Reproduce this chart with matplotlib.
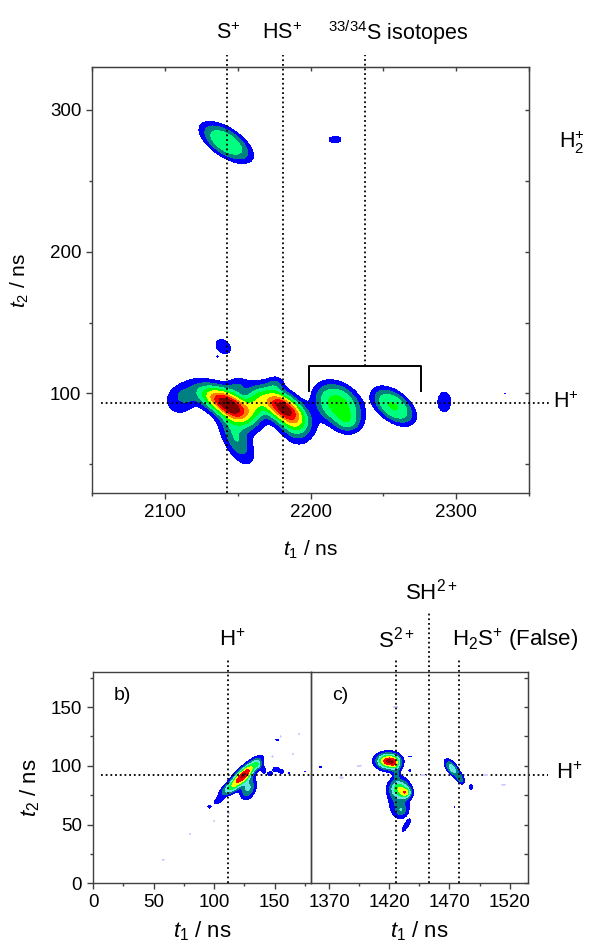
import numpy as np
import matplotlib
matplotlib.use("Agg")
import matplotlib.pyplot as plt
from matplotlib.ticker import MultipleLocator, FixedLocator

plt.rcParams['font.family'] = ['Liberation Sans', 'DejaVu Sans']
plt.rcParams['mathtext.fontset'] = 'custom'
plt.rcParams['mathtext.rm'] = 'Liberation Sans'
plt.rcParams['mathtext.it'] = 'Liberation Sans:italic'
plt.rcParams['mathtext.bf'] = 'Liberation Sans:bold'

# ---- panel a: t1 2050-2350 ns, t2 30-330 ns
# island centre, height, widths, tilt, flatness
a_t1  = [2140, 2149, 2149, 2110, 2162, 2181, 2189, 2219, 2226, 2257, 2292,
         2325, 2329, 2334, 2140, 2149, 2136, 2165, 2150, 2176,
         2142, 2217, 2224.5]
a_t2  = [95, 86, 68, 95, 93, 90, 75, 92, 78, 91, 94,
         100, 95.5, 100, 133, 136, 126, 115, 106, 107,
         277, 279, 270.5]
a_amp = [6.5, 4.0, 3.0, 1.8, 2.5, 8.4, 2.2, 4.3, 1.5, 4.05, 1.6,
         1.3, 1.3, 1.2, 1.5, 1.2, 1.2, 1.2, 1.5, 1.5,
         3.85, 1.4, 1.2]
a_w1  = [14, 9, 8, 7, 5, 11, 7, 11.5, 6, 10, 4,
         0.8, 1.0, 0.6, 4.8, 0.8, 0.8, 0.8, 5, 4,
         12, 4.5, 0.5]
a_w2  = [8, 8, 12, 7, 7, 9, 8, 11, 5, 9, 6.4,
         0.8, 1.0, 0.6, 4.8, 0.8, 0.8, 0.8, 4, 4,
         9.5, 2.5, 1.2]
a_rho = [-0.6, -0.6, -0.6, 0, 0, -0.6, -0.3, -0.3, 0, -0.5, 0,
         0, 0, 0, -0.3, 0, 0, 0, 0, 0,
         -0.62, 0, 0]
a_pow = [1, 1, 1, 1.5, 1, 1, 1, 1.5, 1, 1.5, 1.5,
         1, 1, 1, 1.5, 1, 1, 1, 1, 1,
         1.5, 1.5, 1]

# ---- panel b: t1 0-180 ns
b_t1  = [124, 128, 112, 103, 96, 136, 141, 146, 151, 156, 162, 175, 152]
b_t2  = [92, 81, 80, 70, 65, 101, 96, 93, 97, 95, 94, 95, 122]
b_amp = [6.9, 3.2, 1.8, 1.5, 1.3, 1.8, 1.4, 1.4, 1.5, 1.4, 1.2, 1.1, 1.3]
b_w1  = [8.5, 4.5, 6, 3, 1.5, 2.5, 1.5, 2, 2.5, 2, 1, 0.6, 1.5]
b_w2  = [8.5, 6.5, 4, 2.5, 1.2, 2.5, 2.5, 2, 2, 1.5, 1, 0.8, 0.4]
b_rho = [0.85, 0.3, 0.7, 0.6, 0, 0, 0, 0, 0, 0, 0, 0, 0]
# faint specks (lowest level only)
bf_t1 = [155, 170, 58, 100, 80, 148, 165, 112]
bf_t2 = [125, 127, 20, 53, 42, 108, 110, 60]

# ---- panel c: t1 1355-1535 ns
c_t1  = [1419, 1425, 1426, 1428, 1434, 1428, 1430, 1434, 1472, 1479, 1488,
         1437, 1437, 1363, 1474]
c_t2  = [104, 101, 92, 81, 77, 72, 62, 49, 98, 89, 82,
         96, 108, 99, 65]
c_amp = [7.0, 2.0, 1.8, 3.2, 3.2, 2.2, 1.5, 1.6, 3.6, 2.3, 1.4,
         1.3, 1.3, 1.3, 1.2]
c_w1  = [6.5, 3, 1.5, 5.5, 3, 6.5, 3.5, 3, 4, 2.5, 1.5,
         1, 1.5, 1.5, 0.3]
c_w2  = [4.5, 4, 3, 5, 3, 12, 3.5, 4.5, 5, 3.5, 2.5,
         1, 0.4, 0.4, 1.5]
c_rho = [0, 0, 0, 0, 0, 0, 0, 0.85, -0.6, -0.5, 0,
         0, 0, 0, 0]
cf_t1 = [1412, 1425, 1380, 1500, 1515, 1448, 1395]
cf_t2 = [107, 150, 90, 92, 84, 92, 100]

levels_a = [1, 2, 3, 4, 5, 6, 7, 8, 100]
colors_a = ['#0000FF', '#008080', '#00FF80', '#00FF00', '#FFFF00', '#FF8000', '#FF0000', '#800000']
levels_bc = [1, 2, 3, 4, 5, 6, 7, 100]
colors_bc = ['#0000FF', '#008080', '#60E8E0', '#00FF40', '#FFFF00', '#FF0000', '#900000']
faint_col = '#D0D0FF'


def surface(X, Y, c1, c2, amp, w1, w2, rho, pw=None):
    Z = np.zeros_like(X)
    if pw is None:
        pw = [1] * len(c1)
    for x0, y0, A, s1, s2, r, p in zip(c1, c2, amp, w1, w2, rho, pw):
        dx = (X - x0) / s1
        dy = (Y - y0) / s2
        q = (dx**2 - 2 * r * dx * dy + dy**2) / (1 - r**2)
        Z += A * np.exp(-(0.5 * q) ** p)
    return Z


fig = plt.figure(figsize=(5.89, 9.48), dpi=100)
spine_col = '#404040'
dots = (0, (1, 1.6))


def style(ax):
    for s in ax.spines.values():
        s.set_color(spine_col)
        s.set_linewidth(1.0)
    ax.tick_params(which='both', direction='out', colors=spine_col, labelcolor='black',
                   labelsize=13.5, width=1.0)
    ax.tick_params(which='major', length=4.5)
    ax.tick_params(which='minor', length=2.5)


# ================= panel a =================
ax = fig.add_axes([0.157, 0.4803, 0.7404, 0.4487])
X, Y = np.meshgrid(np.arange(2050, 2351, 2.0), np.arange(30, 331, 2.0))
Z = surface(X, Y, a_t1, a_t2, a_amp, a_w1, a_w2, a_rho, a_pow)
ax.contourf(X, Y, Z, levels=levels_a, colors=colors_a)
ax.set_xlim(2050, 2350)
ax.set_ylim(30, 330)
ax.xaxis.set_major_locator(MultipleLocator(100))
ax.xaxis.set_minor_locator(MultipleLocator(50))
ax.yaxis.set_major_locator(MultipleLocator(100))
ax.yaxis.set_minor_locator(MultipleLocator(50))
style(ax)
for side in ['top', 'right']:
    sec = ax.secondary_xaxis('top') if side == 'top' else ax.secondary_yaxis('right')
    axis = sec.xaxis if side == 'top' else sec.yaxis
    axis.set_major_locator(MultipleLocator(100))
    axis.set_minor_locator(MultipleLocator(50))
    sec.tick_params(which='both', direction='in', length=3, colors=spine_col,
                    labeltop=False, labelright=False, width=1.0)
    sec.spines[side].set_color(spine_col)

xt = ax.get_xaxis_transform()
yt = ax.get_yaxis_transform()
line_pos = [2142.5, 2181, 2237.4]
line_bot = [30, 30, 119.6]
for xp, yb in zip(line_pos, line_bot):
    ybf = (yb - 30) / 300
    ax.plot([xp, xp], [ybf, 1.029], transform=xt, color='black', ls=dots, lw=1.3,
            clip_on=False, zorder=5)
ax.plot([0.02, 1.046], [93, 93], transform=yt, color='black', ls=dots, lw=1.3,
        clip_on=False, zorder=5)
ax.plot([2199, 2199, 2276, 2276], [102, 119.6, 119.6, 102], color='black', lw=1.4, zorder=6)

ax.text(2143.3, 1.081, r'S$^{+}$', transform=xt, ha='center', va='center', fontsize=15.5)
ax.text(2180.4, 1.081, r'HS$^{+}$', transform=xt, ha='center', va='center', fontsize=15.5)
ax.text(2260, 1.081, r'$^{33/34}$S isotopes', transform=xt, ha='center', va='center', fontsize=15.5)
ax.text(1.1, 277, r'H$_2^{+}$', transform=yt, ha='center', va='center', fontsize=15.5)
ax.text(1.086, 94, r'H$^{+}$', transform=yt, ha='center', va='center', fontsize=15.5)

ax.text(0.5, -0.135, r'$t_{1}$ / ns', transform=ax.transAxes, ha='center', va='center', fontsize=15)
ax.text(-0.166, 0.5, r'$t_{2}$ / ns', transform=ax.transAxes, ha='center', va='center',
        rotation=90, fontsize=15)

# ================= panels b and c =================
axb = fig.add_axes([0.1582, 0.0682, 0.3698, 0.2232])
axc = fig.add_axes([0.528, 0.0682, 0.368, 0.2232])
axc.patch.set_visible(False)

Xb, Yb = np.meshgrid(np.arange(0, 180.5, 1.0), np.arange(0, 180.5, 1.0))
Zf = surface(Xb, Yb, bf_t1, bf_t2, [1] * len(bf_t1), [0.6] * len(bf_t1),
             [0.5] * len(bf_t1), [0] * len(bf_t1))
axb.contourf(Xb, Yb, Zf, levels=[0.5, 100], colors=[faint_col])
Zb = surface(Xb, Yb, b_t1, b_t2, b_amp, b_w1, b_w2, b_rho)
axb.contourf(Xb, Yb, Zb, levels=levels_bc, colors=colors_bc)

Xc, Yc = np.meshgrid(np.arange(1355, 1535.5, 1.0), np.arange(0, 180.5, 1.0))
Zf = surface(Xc, Yc, cf_t1, cf_t2, [1] * len(cf_t1), [1.5] * len(cf_t1),
             [0.4] * len(cf_t1), [0] * len(cf_t1))
axc.contourf(Xc, Yc, Zf, levels=[0.5, 100], colors=[faint_col])
Zc = surface(Xc, Yc, c_t1, c_t2, c_amp, c_w1, c_w2, c_rho)
axc.contourf(Xc, Yc, Zc, levels=levels_bc, colors=colors_bc)

axb.set_xlim(0, 180)
axc.set_xlim(1355, 1535)
for a in (axb, axc):
    a.set_ylim(0, 180)
    a.xaxis.set_major_locator(MultipleLocator(50))
    a.xaxis.set_minor_locator(MultipleLocator(25))
    a.yaxis.set_major_locator(MultipleLocator(50))
    a.yaxis.set_minor_locator(MultipleLocator(25))
    style(a)
axc.xaxis.set_major_locator(FixedLocator([1370, 1420, 1470, 1520]))
axc.xaxis.set_minor_locator(FixedLocator([1395, 1445, 1495]))
axc.tick_params(axis='y', which='both', left=False, labelleft=False)
sec = axc.secondary_yaxis('right')
sec.yaxis.set_major_locator(MultipleLocator(50))
sec.yaxis.set_minor_locator(MultipleLocator(25))
sec.tick_params(which='both', direction='in', length=3, colors=spine_col,
                labelright=False, width=1.0)
sec.spines['right'].set_color(spine_col)

xbt = axb.get_xaxis_transform()
xct = axc.get_xaxis_transform()
axb.plot([111.5, 111.5], [0, 1.063], transform=xbt, color='black', ls=dots, lw=1.3,
         clip_on=False, zorder=5)
c_lines = [1426, 1452.8, 1478]
c_tops = [1.063, 1.276, 1.063]
for xp, yt_ in zip(c_lines, c_tops):
    axc.plot([xp, xp], [0, yt_], transform=xct, color='black', ls=dots, lw=1.3,
             clip_on=False, zorder=5)
axb.plot([0.038, 2.09], [92, 92], transform=axb.get_yaxis_transform(), color='black',
         ls=dots, lw=1.3, clip_on=False, zorder=5)

axb.text(114.7, 1.15, r'H$^{+}$', transform=xbt, ha='center', va='center', fontsize=16)
axc.text(1425.7, 1.15, r'S$^{2+}$', transform=xct, ha='center', va='center', fontsize=16)
axc.text(1454.8, 1.378, r'SH$^{2+}$', transform=xct, ha='center', va='center', fontsize=16)
axc.text(1524.7, 1.15, r'H$_2$S$^{+}$ (False)', transform=xct, ha='center', va='center', fontsize=16)
axc.text(1.19, 94, r'H$^{+}$', transform=axc.get_yaxis_transform(), ha='center',
         va='center', fontsize=16)
axb.text(0.132, 0.89, 'b)', transform=axb.transAxes, ha='center', va='center', fontsize=14)
axc.text(0.136, 0.89, 'c)', transform=axc.transAxes, ha='center', va='center', fontsize=14)

axb.text(0.5, -0.228, r'$t_{1}$ / ns', transform=axb.transAxes, ha='center', va='center', fontsize=16)
axc.text(0.5, -0.228, r'$t_{1}$ / ns', transform=axc.transAxes, ha='center', va='center', fontsize=16)
axb.text(-0.29, 0.45, r'$t_{2}$ / ns', transform=axb.transAxes, ha='center', va='center',
         rotation=90, fontsize=16)

fig.savefig('out.png', dpi=100)
